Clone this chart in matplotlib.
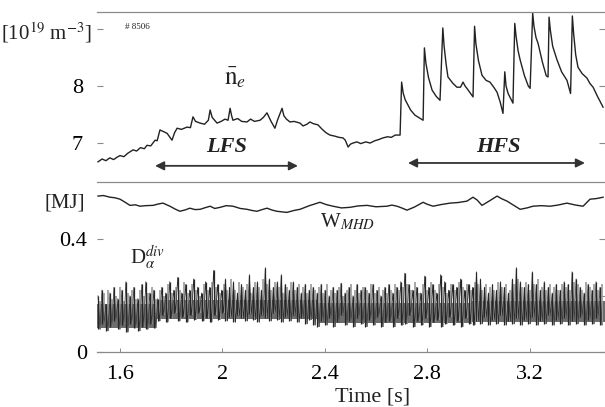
import numpy as np
import matplotlib
matplotlib.use("Agg")
import matplotlib.pyplot as plt

plt.rcParams['font.family'] = ['Liberation Serif', 'DejaVu Serif']
plt.rcParams['mathtext.fontset'] = 'stix'

INK = '#222222'
FRAME = '#8a8a8a'

# ---- line-averaged density n_e [1e19 m^-3] ----
ne_t = [1.514, 1.53, 1.545, 1.56, 1.575, 1.588, 1.60, 1.615, 1.63, 1.651, 1.665, 1.68, 1.695,
        1.705, 1.72, 1.737, 1.745, 1.756, 1.77, 1.784, 1.795, 1.803, 1.813, 1.823, 1.84, 1.862,
        1.875, 1.885, 1.895, 1.913, 1.93, 1.945, 1.952, 1.96, 1.979, 1.995, 2.01, 2.022, 2.030,
        2.036, 2.041, 2.06, 2.075, 2.096, 2.11, 2.125, 2.147, 2.16, 2.174, 2.19, 2.205, 2.215,
        2.233, 2.24, 2.25, 2.264, 2.28, 2.303, 2.315, 2.33, 2.342, 2.355, 2.373, 2.39, 2.405,
        2.420, 2.44, 2.455, 2.471, 2.48, 2.491, 2.50, 2.51, 2.526, 2.54, 2.56, 2.577, 2.595,
        2.61, 2.627, 2.645, 2.66, 2.675, 2.694, 2.700, 2.706, 2.714, 2.721, 2.735, 2.752, 2.77, 2.784,
        2.789, 2.795, 2.805, 2.819, 2.835, 2.850, 2.861, 2.866, 2.874, 2.881, 2.90, 2.916, 2.93, 2.940, 2.948,
        2.955, 2.968, 2.979, 2.985, 2.990, 3.000, 3.014, 3.03, 3.045, 3.06, 3.073, 3.085, 3.096, 3.103,
        3.108, 3.116, 3.128, 3.135, 3.142, 3.147, 3.155, 3.163, 3.18, 3.195, 3.202, 3.212, 3.217, 3.225, 3.233,
        3.25, 3.265, 3.272, 3.276, 3.281, 3.290, 3.307, 3.325, 3.346, 3.36, 3.367, 3.372, 3.380, 3.389, 3.405,
        3.424, 3.435, 3.448, 3.465, 3.487]
ne_v = [6.67, 6.72, 6.69, 6.74, 6.71, 6.75, 6.78, 6.76, 6.82, 6.88, 6.86, 6.92, 6.90,
        6.96, 6.95, 7.05, 7.04, 7.23, 7.20, 7.17, 7.10, 7.05, 7.18, 7.26, 7.24, 7.28,
        7.27, 7.46, 7.38, 7.35, 7.33, 7.40, 7.58, 7.45, 7.35, 7.38, 7.42, 7.40, 7.61,
        7.48, 7.40, 7.43, 7.38, 7.37, 7.42, 7.38, 7.40, 7.45, 7.53, 7.38, 7.26, 7.40,
        7.61, 7.48, 7.42, 7.37, 7.38, 7.35, 7.30, 7.33, 7.37, 7.34, 7.32, 7.24, 7.18,
        7.14, 7.12, 7.10, 7.09, 7.05, 6.93, 6.98, 7.00, 7.02, 6.99, 7.02, 7.00, 7.04,
        7.06, 7.09, 7.11, 7.10, 7.14, 7.14, 8.07, 7.88, 7.76, 7.70, 7.58, 7.49, 7.44, 7.40,
        8.67, 8.40, 8.15, 7.93, 7.82, 7.75, 9.02, 8.70, 8.38, 8.16, 8.05, 7.98, 7.98, 8.07, 8.00,
        7.96, 7.88, 7.81, 9.05, 8.75, 8.45, 8.19, 8.10, 8.07, 7.98, 7.89, 7.72, 7.52, 8.25,
        8.00, 7.87, 7.76, 7.70, 9.10, 8.88, 8.62, 8.46, 8.18, 8.00, 7.96, 9.28, 9.05, 8.85, 8.75,
        8.42, 8.18, 8.16, 9.21, 8.98, 8.70, 8.46, 8.25, 8.10, 7.87, 9.23, 8.92, 8.55, 8.33, 8.22,
        8.14, 8.05, 7.98, 7.82, 7.63]

# ---- stored energy W_MHD [MJ] ----
w_t = [1.514, 1.535, 1.561, 1.58, 1.60, 1.62, 1.639, 1.66, 1.678, 1.70, 1.729, 1.75, 1.768,
       1.78, 1.795, 1.815, 1.834, 1.855, 1.873, 1.893, 1.913, 1.93, 1.952, 1.97, 1.991, 2.015,
       2.041, 2.07, 2.096, 2.115, 2.135, 2.155, 2.174, 2.195, 2.213, 2.232, 2.252, 2.28, 2.303,
       2.34, 2.381, 2.405, 2.432, 2.465, 2.498, 2.53, 2.565, 2.60, 2.643, 2.662, 2.682, 2.70,
       2.721, 2.75, 2.784, 2.80, 2.823, 2.855, 2.889, 2.92, 2.955, 2.979, 2.995, 3.014, 3.045,
       3.073, 3.09, 3.112, 3.14, 3.163, 3.19, 3.213, 3.245, 3.280, 3.31, 3.346, 3.38, 3.409,
       3.436, 3.46, 3.487]
w_v = [0.554, 0.556, 0.550, 0.548, 0.543, 0.532, 0.521, 0.523, 0.518, 0.520, 0.521, 0.526, 0.529,
       0.524, 0.518, 0.508, 0.500, 0.505, 0.511, 0.506, 0.507, 0.512, 0.518, 0.510, 0.514, 0.520,
       0.518, 0.510, 0.507, 0.503, 0.500, 0.506, 0.511, 0.504, 0.500, 0.498, 0.496, 0.503, 0.507,
       0.520, 0.532, 0.524, 0.518, 0.512, 0.514, 0.519, 0.521, 0.516, 0.518, 0.522, 0.518, 0.512,
       0.504, 0.515, 0.532, 0.525, 0.518, 0.524, 0.529, 0.531, 0.536, 0.550, 0.540, 0.521, 0.538,
       0.554, 0.545, 0.536, 0.520, 0.507, 0.512, 0.518, 0.520, 0.518, 0.522, 0.529, 0.522, 0.518,
       0.543, 0.545, 0.550]

# ---- divertor D-alpha (arb. units): burst peaks (dark and light strokes) and troughs ----
da_peak = [0.20, 0.22, 0.17, 0.21, 0.23, 0.19, 0.22, 0.25, 0.20, 0.23, 0.19, 0.24, 0.25, 0.21, 0.22,
           0.19, 0.23, 0.21, 0.25, 0.22, 0.265, 0.21, 0.24, 0.22, 0.26, 0.23, 0.21, 0.25, 0.23, 0.29,
           0.24, 0.22, 0.26, 0.23, 0.25, 0.21, 0.24, 0.22, 0.275, 0.23, 0.25, 0.22, 0.30, 0.26, 0.23,
           0.25, 0.275, 0.24, 0.22, 0.25, 0.23, 0.21, 0.24, 0.22, 0.23,
           0.21, 0.24, 0.22, 0.20, 0.23, 0.22, 0.245, 0.21, 0.23, 0.20, 0.24, 0.22, 0.23, 0.21, 0.24,
           0.22, 0.20, 0.23, 0.24, 0.21, 0.23, 0.25, 0.28, 0.24, 0.22, 0.23, 0.21, 0.27, 0.23, 0.24,
           0.21, 0.275, 0.25, 0.22, 0.24, 0.23, 0.26, 0.22, 0.24,
           0.23, 0.285, 0.26, 0.23, 0.21, 0.24, 0.22, 0.25, 0.23, 0.21, 0.26, 0.30, 0.25, 0.23, 0.24,
           0.285, 0.24, 0.22, 0.25, 0.23, 0.21, 0.24, 0.22, 0.25, 0.24, 0.285, 0.26, 0.23, 0.21, 0.24,
           0.22, 0.25, 0.23]
da_peak_light = [0.18, 0.21, 0.22, 0.19, 0.20, 0.23, 0.18, 0.21, 0.22, 0.19, 0.22, 0.20, 0.21, 0.23, 0.19,
                 0.22, 0.20, 0.24, 0.21, 0.23, 0.22, 0.25, 0.21, 0.24, 0.22, 0.20, 0.24, 0.22, 0.25, 0.23,
                 0.21, 0.24, 0.22, 0.26, 0.22, 0.25, 0.23, 0.24, 0.21, 0.25, 0.23, 0.26, 0.24, 0.22, 0.25,
                 0.23, 0.21, 0.23, 0.25, 0.22, 0.24, 0.23, 0.21, 0.24, 0.22,
                 0.23, 0.21, 0.24, 0.22, 0.21, 0.23, 0.20, 0.22, 0.24, 0.22, 0.21, 0.23, 0.22, 0.24, 0.21,
                 0.23, 0.22, 0.21, 0.22, 0.24, 0.22, 0.23, 0.24, 0.22, 0.25, 0.21, 0.24, 0.22, 0.25, 0.22,
                 0.24, 0.23, 0.21, 0.24, 0.22, 0.25, 0.23, 0.24, 0.22,
                 0.25, 0.24, 0.22, 0.24, 0.23, 0.22, 0.25, 0.23, 0.24, 0.22, 0.24, 0.26, 0.23, 0.25, 0.22,
                 0.24, 0.26, 0.23, 0.22, 0.24, 0.23, 0.22, 0.24, 0.23, 0.22, 0.25, 0.24, 0.22, 0.25, 0.23,
                 0.24, 0.22, 0.24]
da_trough = [0.08, 0.10, 0.075, 0.09, 0.11, 0.08, 0.095, 0.07, 0.10, 0.085, 0.075, 0.09, 0.08, 0.10, 0.085,
             0.11, 0.13, 0.105, 0.12, 0.14, 0.11, 0.125, 0.105, 0.13, 0.115, 0.14, 0.11, 0.12, 0.105, 0.13,
             0.115, 0.14, 0.11, 0.125, 0.105, 0.13, 0.12, 0.11, 0.135, 0.115, 0.105, 0.13, 0.12, 0.11, 0.14,
             0.115, 0.105, 0.125, 0.11, 0.13, 0.105, 0.12, 0.10, 0.115, 0.095,
             0.09, 0.11, 0.095, 0.12, 0.09, 0.105, 0.13, 0.095, 0.11, 0.09, 0.12, 0.10, 0.09, 0.115, 0.095,
             0.125, 0.09, 0.105, 0.11, 0.09, 0.12, 0.095, 0.10, 0.13, 0.09, 0.11, 0.095, 0.12, 0.09, 0.105,
             0.115, 0.09, 0.10, 0.125, 0.095, 0.11, 0.09, 0.12, 0.10,
             0.095, 0.11, 0.10, 0.125, 0.095, 0.115, 0.10, 0.13, 0.095, 0.11, 0.10, 0.12, 0.095, 0.115, 0.10,
             0.125, 0.095, 0.11, 0.10, 0.13, 0.095, 0.115, 0.10, 0.12, 0.095, 0.11, 0.10, 0.125, 0.095, 0.115,
             0.10, 0.12, 0.095]
# dense core of the signal, one level pair per phase
da_phase_edges = [1.510, 1.740, 2.370, 2.970, 3.495]
da_core_low = [0.085, 0.118, 0.102, 0.106]
da_core_high = [0.170, 0.185, 0.175, 0.180]

x_ticks = [1.6, 2.0, 2.4, 2.8, 3.2]
x_ticklabels = ['1.6', '2', '2.4', '2.8', '3.2']

fig = plt.figure(figsize=(6.05, 4.07), dpi=100)
ax1 = fig.add_axes([0.1603, 0.5528, 0.8397, 0.4177])
ax2 = fig.add_axes([0.1603, 0.1351, 0.8397, 0.4177])

XLIM = (1.510, 3.4945)

# upper panel
ax1.plot(ne_t, ne_v, color=INK, lw=1.0)
ax1.set_xlim(*XLIM)
ax1.set_ylim(6.316, 9.30)
ax1.set_yticks([7, 8, 9])
ax1.set_yticklabels(['7', '8', ''])
ax1.tick_params(axis='y', which='both', direction='in', length=4, width=0.8, color=FRAME,
                labelsize=16, pad=10, right=True)
ax1.tick_params(axis='x', bottom=False, labelbottom=False)

ax1.annotate('', xy=(1.737, 6.60), xytext=(2.295, 6.60),
             arrowprops=dict(arrowstyle='<|-|>', color='#333333', lw=1.3, mutation_scale=13,
                             shrinkA=0, shrinkB=0))
ax1.annotate('', xy=(2.725, 6.65), xytext=(3.416, 6.65),
             arrowprops=dict(arrowstyle='<|-|>', color='#333333', lw=1.3, mutation_scale=13,
                             shrinkA=0, shrinkB=0))
ax1.text(2.018, 6.93, 'LFS', fontsize=16, fontweight='bold', style='italic',
         ha='center', va='center', color=INK)
ax1.text(3.077, 6.93, 'HFS', fontsize=16, fontweight='bold', style='italic',
         ha='center', va='center', color=INK)
ax1.text(2.05, 8.14, r'$\bar{\mathrm{n}}_e$', fontsize=18, ha='center', va='center', color=INK)
ax1.text(1.62, 9.04, '# 8506', fontsize=6.5, ha='left', va='center', color=INK)

# lower panel: D-alpha bursts drawn as strokes over a dense core
for i in range(len(da_core_low)):
    ax2.fill_between([da_phase_edges[i], da_phase_edges[i + 1]], da_core_low[i], da_core_high[i],
                     color='#6c6c6c', lw=0)
da_t = np.linspace(1.514, 3.475, len(da_peak))
dt = da_t[1] - da_t[0]
ax2.vlines(da_t + dt / 2, da_trough, da_peak_light, color='#a0a0a0', lw=1.3)
zz_t = np.empty(2 * len(da_t))
zz_v = np.empty(2 * len(da_t))
zz_t[0::2] = da_t
zz_t[1::2] = da_t + dt / 2
zz_v[0::2] = da_peak
zz_v[1::2] = da_trough
ax2.plot(zz_t, zz_v, color='#2a2a2a', lw=0.5)
ax2.vlines(da_t, da_trough, da_peak, color='#262626', lw=0.9)

ax2.plot(w_t, w_v, color=INK, lw=1.0)
ax2.set_xlim(*XLIM)
ax2.set_ylim(0, 0.604)
ax2.set_yticks([0, 0.4])
ax2.set_yticklabels(['0', '0.4'])
ax2.set_yticks([0.2], minor=True)
ax2.tick_params(axis='y', which='major', direction='in', length=4, width=0.8, color=FRAME,
                labelsize=16, pad=7, right=True)
ax2.tick_params(axis='y', which='minor', direction='in', length=4, width=0.8, color=FRAME,
                left=False, right=True)
ax2.set_xticks(x_ticks)
ax2.set_xticklabels(x_ticklabels)
ax2.tick_params(axis='x', direction='in', length=3, width=0.7, color=FRAME, labelsize=16, pad=9)

ax2.text(2.381, 0.461, r'W$_{\mathit{MHD}}$', fontsize=15, ha='left', va='center', color=INK)
ax2.text(1.639, 0.336, r'D$_{\alpha}^{\mathit{div}}$', fontsize=15, ha='left', va='center', color=INK)

for ax in (ax1, ax2):
    ax.set_facecolor('none')
    for s in ('left', 'right'):
        ax.spines[s].set_visible(False)
    for s in ('top', 'bottom'):
        ax.spines[s].set_color(FRAME)
        ax.spines[s].set_linewidth(0.9)
ax2.spines['top'].set_visible(False)

fig.text(0.152, 0.921, r'[10$^{19}$ m$^{-3}$]', fontsize=15, ha='right', va='center', color=INK)
fig.text(0.1405, 0.501, '[MJ]', fontsize=15, ha='right', va='center', color=INK)
fig.text(0.615, 0.0246, 'Time [s]', fontsize=16, ha='center', va='center', color=INK)

fig.savefig('out.png', dpi=100)
